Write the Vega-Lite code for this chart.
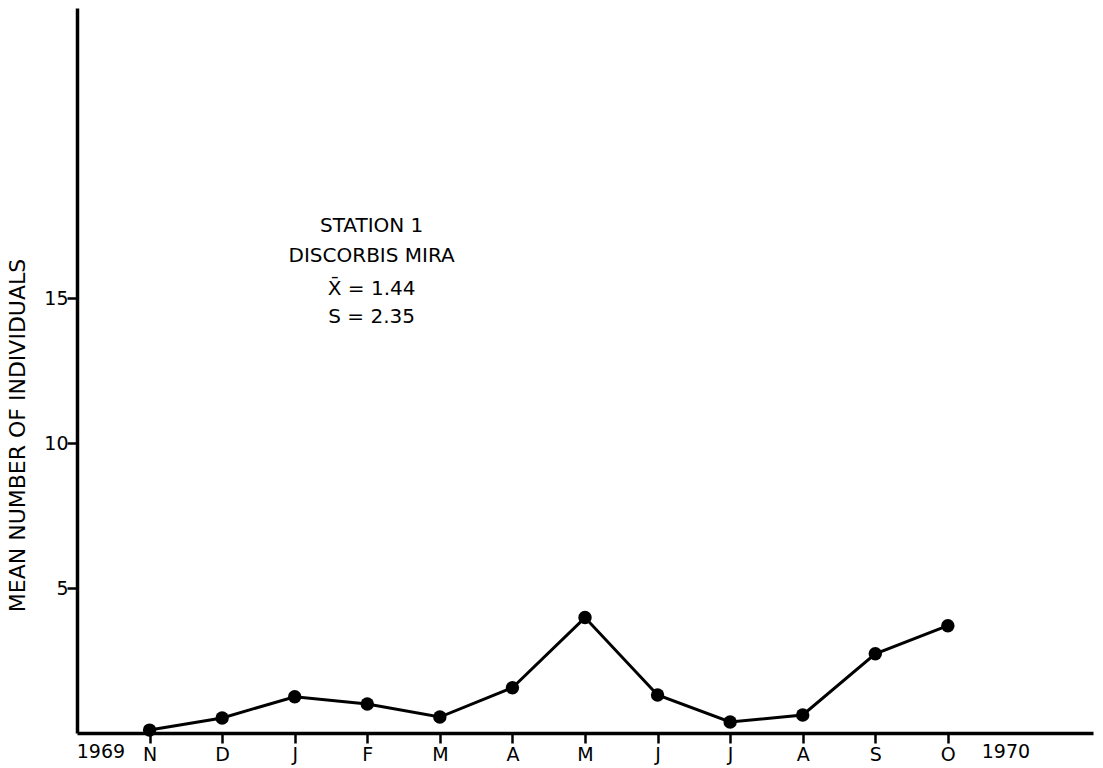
{
  "$schema": "https://vega.github.io/schema/vega-lite/v6.json",
  "width": 1016,
  "height": 725,
  "autosize": "none",
  "padding": {"left": 77, "top": 8, "right": 10, "bottom": 35},
  "background": "white",
  "config": {
    "view": {"stroke": null},
    "font": "DejaVu Sans",
    "axis": {
      "grid": false,
      "domainColor": "black",
      "domainWidth": 3.5,
      "tickColor": "black",
      "tickWidth": 2.5,
      "tickSize": 10,
      "labelColor": "black",
      "labelFontSize": 19,
      "titleColor": "black",
      "titleFontWeight": "normal",
      "titleFontSize": 22
    }
  },
  "datasets": {
    "counts": [
      {"month": "N", "order": 0, "mean": 0.1},
      {"month": "D", "order": 1, "mean": 0.52},
      {"month": "J", "order": 2, "mean": 1.25},
      {"month": "F", "order": 3, "mean": 1.0},
      {"month": "M", "order": 4, "mean": 0.55},
      {"month": "A", "order": 5, "mean": 1.56},
      {"month": "M", "order": 6, "mean": 3.98},
      {"month": "J", "order": 7, "mean": 1.31},
      {"month": "J", "order": 8, "mean": 0.38},
      {"month": "A", "order": 9, "mean": 0.62},
      {"month": "S", "order": 10, "mean": 2.73},
      {"month": "O", "order": 11, "mean": 3.7}
    ],
    "notes": [
      {"order": 3.06, "mean": 17.5, "text": "STATION 1"},
      {"order": 3.06, "mean": 16.45, "text": "DISCORBIS MIRA"},
      {"order": 3.06, "mean": 15.3, "text": "X̄ = 1.44"},
      {"order": 3.06, "mean": 14.36, "text": "S = 2.35"}
    ],
    "years": [
      {"order": -0.67, "mean": -0.65, "text": "1969"},
      {"order": 11.8, "mean": -0.65, "text": "1970"}
    ]
  },
  "encoding": {
    "x": {
      "field": "order",
      "type": "quantitative",
      "scale": {"domain": [-1, 13], "nice": false, "zero": false},
      "axis": {
        "title": null,
        "values": [0, 1, 2, 3, 4, 5, 6, 7, 8, 9, 10, 11],
        "labelExpr": "['N','D','J','F','M','A','M','J','J','A','S','O'][datum.value]",
        "labelPadding": 2,
        "encode": {"ticks": {"update": {"y": {"value": 0}, "y2": {"value": -10}}}}
      }
    },
    "y": {
      "field": "mean",
      "type": "quantitative",
      "scale": {"domain": [0, 25], "nice": false},
      "axis": {
        "title": "MEAN NUMBER OF INDIVIDUALS",
        "values": [5, 10, 15],
        "labelPadding": -1,
        "titleX": -60,
        "titleY": 427,
        "titleBaseline": "middle",
        "encode": {"ticks": {"update": {"x": {"value": 0}, "x2": {"value": 10}}}}
      }
    }
  },
  "layer": [
    {
      "data": {"name": "counts"},
      "mark": {"type": "line", "color": "black", "strokeWidth": 3}
    },
    {
      "data": {"name": "counts"},
      "mark": {"type": "point", "filled": true, "color": "black", "opacity": 1, "size": 180}
    },
    {
      "data": {"name": "notes"},
      "mark": {"type": "text", "fontSize": 20, "color": "black", "align": "center", "baseline": "middle"},
      "encoding": {"text": {"field": "text"}}
    },
    {
      "data": {"name": "years"},
      "mark": {"type": "text", "fontSize": 19, "color": "black", "align": "center", "baseline": "middle"},
      "encoding": {"text": {"field": "text"}}
    }
  ]
}
